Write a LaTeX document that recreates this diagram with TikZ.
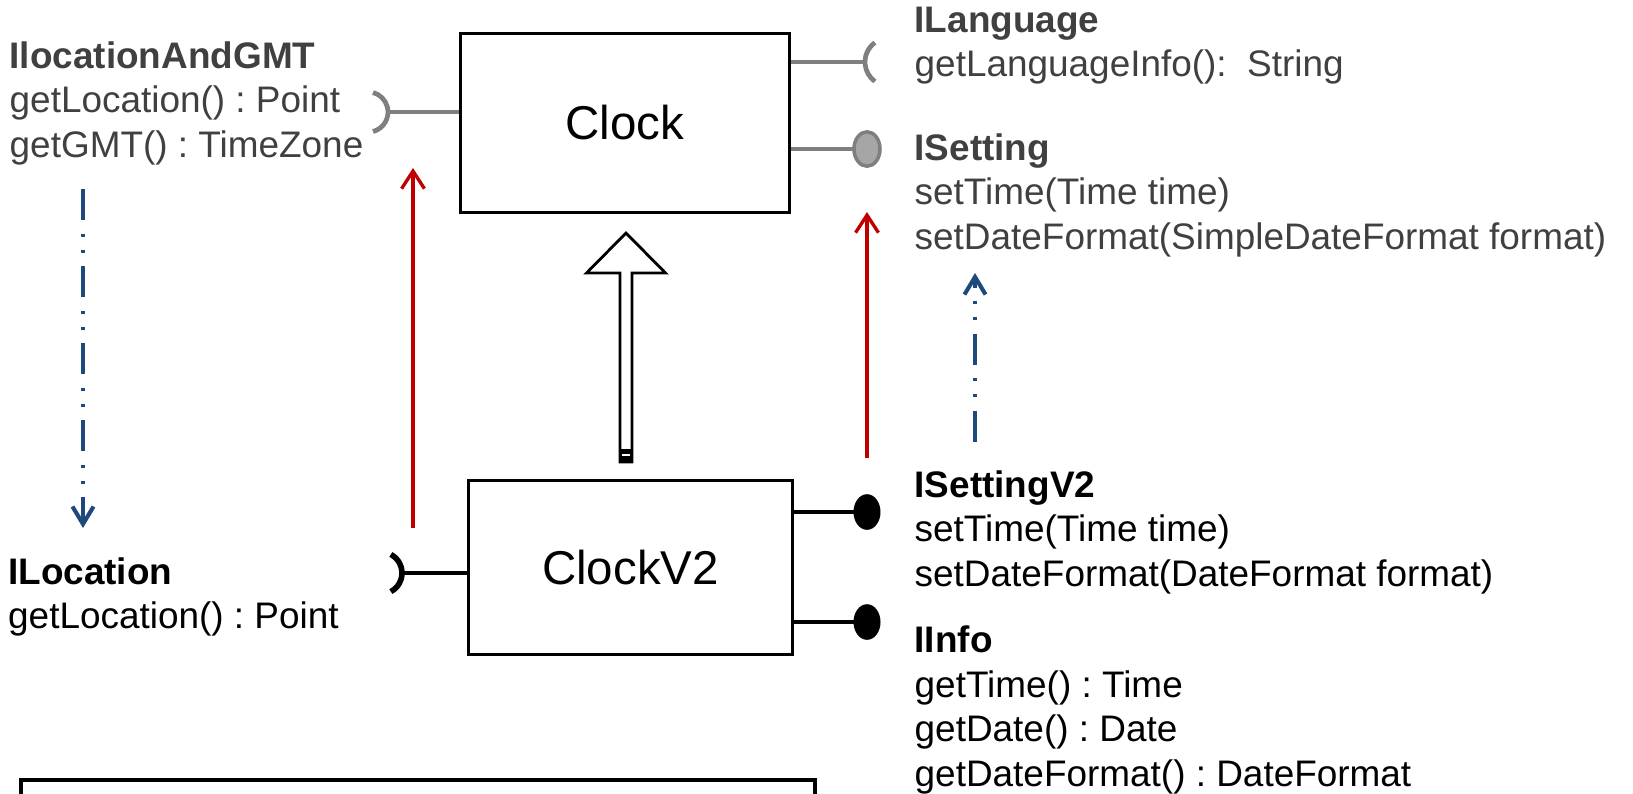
\documentclass[tikz,border=0pt]{standalone}
\usepackage{fontspec}
\setmainfont{Liberation Sans}
\usetikzlibrary{arrows.meta,calc}
\frenchspacing

\definecolor{arrowred}{RGB}{192,0,0}
\definecolor{depblue}{RGB}{31,73,125}
\definecolor{lollygray}{RGB}{127,127,127}
\definecolor{ballgray}{RGB}{166,166,166}
\definecolor{textgray}{RGB}{64,64,64}

\tikzset{
  classbox/.style={draw, line width=0.85pt, inner sep=0pt, font=\fontsize{13.5pt}{16pt}\selectfont},
  iface/.style={anchor=north west, align=left, inner sep=0pt, font=\fontsize{10.5pt}{12.66pt}\selectfont},
  oldiface/.style={iface, text=textgray},
  grayline/.style={draw=lollygray, line width=1.35pt},
  blackline/.style={draw=black, line width=1.35pt},
  redarrow/.style={arrowred, line width=0.95pt, -{Straight Barb[length=5pt,width=6.5pt]}},
  deparrow/.style={depblue, line width=1.15pt, dash pattern=on 8.8pt off 4pt on 0.85pt off 3.7pt on 0.85pt off 3.7pt, -{Straight Barb[length=5pt,width=6pt]}},
  genarrow/.style={draw, line width=0.8pt, fill=white, line join=miter},
}

\begin{document}
\begin{tikzpicture}[x=0.01cm, y=-0.01cm]
        \useasboundingbox (0,0) rectangle (1633,793);

        % Classes
        \node[classbox, minimum width=3.28cm, minimum height=1.78cm] (clock) at (625,123) {Clock};
        \node[classbox, minimum width=3.23cm, minimum height=1.73cm] (clockv2) at (630.5,567.5) {ClockV2};

        % Interfaces of Clock (gray)
        \node[oldiface] (gmt) at (9,41) {\textbf{IlocationAndGMT}\\getLocation() : Point\\getGMT() : TimeZone};
        \node[oldiface] (lang) at (914,6) {\textbf{ILanguage}\\getLanguageInfo():\ \ String};
        \node[oldiface] (setting) at (914,133) {\textbf{ISetting}\\setTime(Time time)\\setDateFormat(SimpleDateFormat format)};

        % Interfaces of ClockV2
        \node[iface] (location) at (7.5,557) {\textbf{ILocation}\\getLocation() : Point};
        \node[iface] (settingv2) at (914,470) {\textbf{ISettingV2}\\setTime(Time time)\\setDateFormat(DateFormat format)};
        \node[iface] (info) at (914,625) {\textbf{IInfo}\\getTime() : Time\\getDate() : Date\\getDateFormat() : DateFormat};

        % Lollipops and sockets of Clock
        \coordinate (gmtend) at (388,112);
        \coordinate (langend) at (865,62);
        \coordinate (setball) at (867,149);
        \draw[grayline] (clock.west |- gmtend) -- (gmtend);
        \draw[grayline] (gmtend) ++(-0.202cm,0) ++(-75:0.202cm) arc[start angle=-75, end angle=75, radius=0.202cm];
        \draw[grayline] (clock.east |- langend) -- (langend);
        \draw[grayline] (langend) ++(0.24cm,0) ++(126:0.24cm) arc[start angle=126, end angle=234, radius=0.24cm];
        \draw[grayline] (clock.east |- setball) -- ([xshift=-0.13cm]setball);
        \draw[grayline, line width=1pt, fill=ballgray] (setball) ellipse [x radius=0.13cm, y radius=0.172cm];

        % Lollipops and socket of ClockV2
        \coordinate (locend) at (402,573);
        \coordinate (v2ball) at (867,512);
        \coordinate (infoball) at (867,622);
        \draw[blackline] (clockv2.west |- locend) -- (locend);
        \draw[blackline, line width=1.6pt] (locend) ++(-0.21cm,0) ++(-62:0.21cm) arc[start angle=-62, end angle=62, radius=0.21cm];
        \draw[blackline] (clockv2.east |- v2ball) -- (v2ball);
        \fill (v2ball) ellipse [x radius=0.135cm, y radius=0.178cm];
        \draw[blackline] (clockv2.east |- infoball) -- (infoball);
        \fill (infoball) ellipse [x radius=0.135cm, y radius=0.178cm];

        % Generalization (hollow arrow)
        \coordinate (gentip) at (626,233);
        \coordinate (genfoot) at (626,462);
        \draw[genarrow] (gentip) -- ++(39.5,40) -- ++(-33.5,0) -- (genfoot -| 632,0) -- (genfoot -| 620,0) -- ++(0,-189) -- ++(-33.5,0) -- cycle;
        \fill (genfoot) ++(-6,0) rectangle ++(12,-13);
        \draw[white, line width=0.3pt] (genfoot) ++(-4,-7) -- ++(8,0);

        % Red arrows
        \coordinate (redltail) at (413,528);
        \coordinate (redltip) at (413,168);
        \coordinate (redrtail) at (867,458);
        \coordinate (redrtip) at (867,212);
        \draw[redarrow] (redltail) -- (redltip);
        \draw[redarrow] (redrtail) -- (redrtip);

        % Blue dash-dot arrows
        \coordinate (gmtdep) at (83,189);
        \coordinate (locdep) at (83,528);
        \coordinate (v2dep) at (975,442);
        \coordinate (setdep) at (975,273);
        \draw[deparrow] (gmtdep) -- (locdep);
        \draw[deparrow] (v2dep) -- (setdep);

        % Box cut at the bottom
        \draw[line width=0.9pt] (21,780) rectangle (815,820);

    \end{tikzpicture}
\end{document}
